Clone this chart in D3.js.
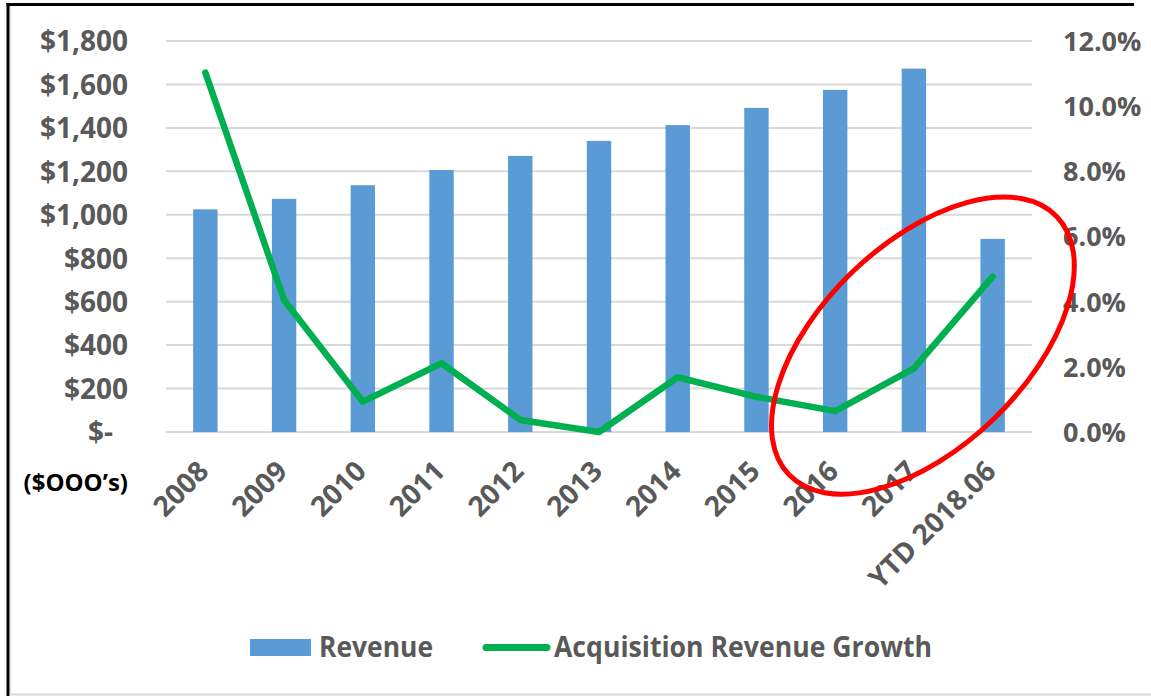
<!DOCTYPE html>
<html>
<head>
<meta charset="utf-8">
<script src="https://cdnjs.cloudflare.com/ajax/libs/d3/7.8.5/d3.min.js"></script>
<style>
  body { margin: 0; background: #fff; }
  svg text { font-family: "Open Sans", "Liberation Sans", sans-serif; }
</style>
</head>
<body>
<svg></svg>
<script>
// Chart data
const categories = ["2008", "2009", "2010", "2011", "2012", "2013", "2014", "2015", "2016", "2017", "YTD 2018.06"];
const revenue = [1025, 1073, 1136, 1206, 1271, 1340, 1413, 1492, 1575, 1673, 889];
const growth = [0.1103, 0.0405, 0.0093, 0.0211, 0.0037, 0.0000, 0.0168, 0.0108, 0.0064, 0.0195, 0.0477];
const leftTicks = [0, 200, 400, 600, 800, 1000, 1200, 1400, 1600, 1800];
const rightTicks = [0, 0.02, 0.04, 0.06, 0.08, 0.10, 0.12];

const W = 1151, H = 696;
const plot = {left: 166, right: 1032, top: 41, bottom: 432};
const textColor = "#595959";

const svg = d3.select("svg")
              .attr("width", W)
              .attr("height", H);

// Scales
const x = d3.scaleBand()
            .domain(categories)
            .range([plot.left, plot.right])
            .paddingInner(0.69)
            .paddingOuter(0.345);

const y = d3.scaleLinear()
            .domain([0, 1800])
            .range([plot.bottom, plot.top]);

const yR = d3.scaleLinear()
             .domain([0, 0.12])
             .range([plot.bottom, plot.top]);

const cx = d => x(d) + x.bandwidth() / 2;

// Frame around the picture
svg.append("line")
   .attr("x1", 10.5).attr("x2", 1151).attr("y1", 694.5).attr("y2", 694.5)
   .attr("stroke", "#d9d9d9").attr("stroke-width", 2);
svg.append("line")
   .attr("x1", 10.5).attr("x2", 10.5).attr("y1", 6).attr("y2", 694)
   .attr("stroke", "#e3e3e3").attr("stroke-width", 1.5);
svg.append("line")
   .attr("x1", 6.5).attr("x2", 1134).attr("y1", 4.5).attr("y2", 4.5)
   .attr("stroke", "#000").attr("stroke-width", 3);
svg.append("line")
   .attr("x1", 8).attr("x2", 8).attr("y1", 3).attr("y2", 696)
   .attr("stroke", "#000").attr("stroke-width", 3);

// Gridlines
svg.append("g")
   .selectAll("line")
   .data(leftTicks)
   .enter()
   .append("line")
   .attr("x1", plot.left)
   .attr("x2", plot.right)
   .attr("y1", d => y(d))
   .attr("y2", d => y(d))
   .attr("stroke", "#d9d9d9")
   .attr("stroke-width", 2);

// Left axis
const leftAxis = svg.append("g")
   .attr("transform", `translate(${plot.left},0)`)
   .call(d3.axisLeft(y).tickValues(leftTicks).tickSize(0).tickPadding(38)
           .tickFormat(d => d === 0 ? "$-" : "$" + d3.format(",")(d)));
leftAxis.select(".domain").remove();
leftAxis.selectAll("text")
   .attr("dy", "0.35em")
   .attr("dx", d => d === 0 ? -15 : 0)
   .attr("fill", textColor)
   .style("font-size", "28px")
   .style("font-weight", 700);

// Right axis
const rightAxis = svg.append("g")
   .attr("transform", `translate(${plot.right},0)`)
   .call(d3.axisRight(yR).tickValues(rightTicks).tickSize(0).tickPadding(31)
           .tickFormat(d3.format(".1%")));
rightAxis.select(".domain").remove();
rightAxis.selectAll("text")
   .attr("dy", "0.35em")
   .attr("fill", textColor)
   .style("font-size", "27px")
   .style("font-weight", 700);

// Bottom axis labels, rotated
const bottomAxis = svg.append("g")
   .attr("transform", `translate(0,${plot.bottom})`)
   .call(d3.axisBottom(x).tickSize(0));
bottomAxis.select(".domain").remove();
bottomAxis.selectAll("text")
   .attr("x", 5)
   .attr("y", 41)
   .attr("dy", 0)
   .attr("text-anchor", "end")
   .attr("transform", "rotate(-45,5,41)")
   .attr("fill", textColor)
   .style("font-size", "28px")
   .style("font-weight", 700);

// Units note
svg.append("text")
   .attr("x", 128)
   .attr("y", 491)
   .attr("text-anchor", "end")
   .attr("fill", "#000")
   .style("font-size", "24px")
   .style("font-weight", 700)
   .text("($OOO\u2019s)");

// Revenue bars
svg.append("g")
   .selectAll("rect")
   .data(categories)
   .enter()
   .append("rect")
   .attr("x", d => x(d))
   .attr("y", (d, i) => y(revenue[i]))
   .attr("width", x.bandwidth())
   .attr("height", (d, i) => y(0) - y(revenue[i]))
   .attr("fill", "#5b9bd5");

// Growth line
const line = d3.line()
               .x((d, i) => cx(categories[i]))
               .y(d => yR(d));

svg.append("path")
   .datum(growth)
   .attr("d", line)
   .attr("fill", "none")
   .attr("stroke", "#00b050")
   .attr("stroke-width", 6.5)
   .attr("stroke-linejoin", "round")
   .attr("stroke-linecap", "round");

// Red hand-drawn circle around the last points
svg.append("ellipse")
   .attr("cx", 0)
   .attr("cy", 0)
   .attr("rx", 186)
   .attr("ry", 102)
   .attr("transform", `translate(${cx("2017") + 9},${yR(0.0265)}) rotate(-44)`)
   .attr("fill", "none")
   .attr("stroke", "#ff0000")
   .attr("stroke-width", 5);

// Legend
const legend = svg.append("g");
legend.append("rect")
      .attr("x", 250).attr("y", 639)
      .attr("width", 61).attr("height", 17)
      .attr("fill", "#5b9bd5");
legend.append("text")
      .attr("x", 319).attr("y", 657)
      .attr("fill", textColor)
      .attr("textLength", 114)
      .attr("lengthAdjust", "spacingAndGlyphs")
      .style("font-size", "28px")
      .style("font-weight", 700)
      .text("Revenue");
legend.append("line")
      .attr("x1", 486).attr("x2", 547)
      .attr("y1", 647.5).attr("y2", 647.5)
      .attr("stroke", "#00b050")
      .attr("stroke-width", 7)
      .attr("stroke-linecap", "round");
legend.append("text")
      .attr("x", 554).attr("y", 657)
      .attr("fill", textColor)
      .attr("textLength", 378)
      .attr("lengthAdjust", "spacingAndGlyphs")
      .style("font-size", "28px")
      .style("font-weight", 700)
      .text("Acquisition Revenue Growth");
</script>
</body>
</html>
